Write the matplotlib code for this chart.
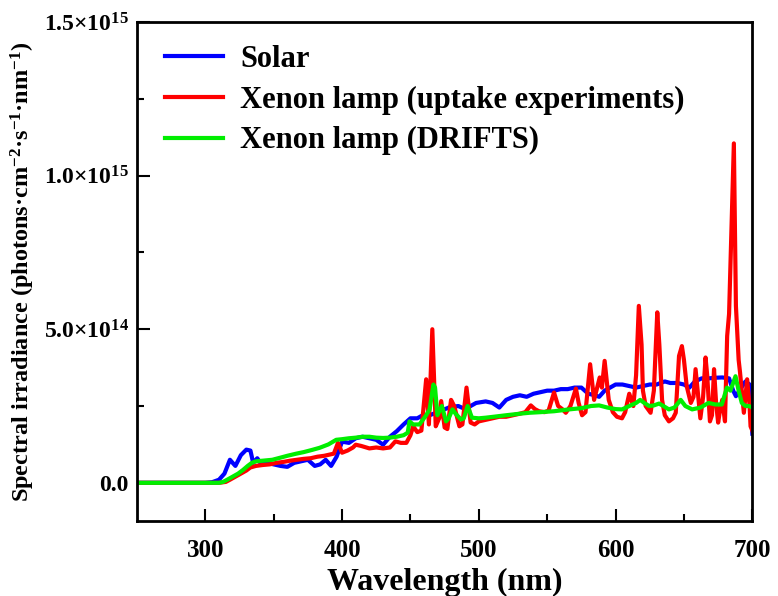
import numpy as np
import matplotlib
matplotlib.use('Agg')
import matplotlib.pyplot as plt
from matplotlib.ticker import FixedLocator

# values, irradiance in units of 1e14 photons/cm2/s/nm
solar_wl = [250, 300, 305, 310, 314, 318, 322, 326, 330, 333, 335, 338, 341, 345, 350,
            355, 360, 365, 370, 375, 380, 384, 388, 392, 396, 400, 405, 410, 415, 420,
            425, 430, 435, 440, 445, 450, 455, 459, 464, 470, 478, 485, 490, 498, 505,
            510, 515, 520, 525, 530, 535, 540, 545, 550, 555, 560, 565, 570, 575, 580,
            585, 588, 592, 596, 600, 605, 610, 615, 620, 625, 630, 636, 640, 645, 650,
            654, 658, 663, 668, 673, 678, 683, 686, 688, 692, 695, 698, 699.5, 700]
solar_val = [0, 0, 0.02, 0.1, 0.3, 0.75, 0.55, 0.9, 1.08, 1.05, 0.65, 0.8, 0.6, 0.65, 0.6,
             0.55, 0.52, 0.65, 0.7, 0.75, 0.55, 0.6, 0.75, 0.55, 0.85, 1.34, 1.3, 1.45, 1.5, 1.45,
             1.4, 1.24, 1.5, 1.68, 1.9, 2.1, 2.1, 2.2, 2.2, 2.3, 2.45, 2.5, 2.4, 2.6, 2.65,
             2.6, 2.45, 2.7, 2.8, 2.85, 2.8, 2.9, 2.95, 3.0, 3.0, 3.05, 3.05, 3.1, 3.1, 2.9,
             2.85, 2.8, 3.0, 3.1, 3.2, 3.2, 3.15, 3.1, 3.15, 3.2, 3.2, 3.3, 3.25, 3.25, 3.2,
             3.1, 3.3, 3.4, 3.4, 3.42, 3.43, 3.4, 3.0, 2.82, 3.1, 3.3, 3.2, 2.0, 1.6]

uptake_wl = [250, 310, 315, 318, 322, 326, 330, 333, 337, 342, 347, 352, 357, 362, 367,
             372, 377, 382, 387, 391, 394, 397, 400, 404, 408, 410, 414, 420, 425, 430,
             435, 439, 443, 447, 450, 452, 455, 458, 461.5, 463.5, 466, 468.5, 471, 472.5, 475,
             477, 479.7, 482, 485.8, 488, 491, 494, 497, 500, 505, 510, 515, 520, 525, 530,
             534, 538, 541, 544, 548, 551, 555, 558, 561, 563.6, 567, 571, 573, 575.5, 578,
             581.4, 584.3, 588.4, 590, 592, 595, 598, 601, 604.7, 607, 610, 613, 615, 617,
             619, 620, 622, 625.6, 628, 630.5, 632, 634, 636, 639, 642, 644, 646.4, 648.5,
             650, 652, 655, 657, 658.5, 660, 662, 664, 665.8, 667, 669, 670.5, 672, 673.5,
             675, 676.5, 678, 680, 681.6, 683, 686.5, 688, 690, 691, 693.8, 696.2, 698, 698.7, 700]
uptake_val = [0, 0, 0.03, 0.1, 0.2, 0.3, 0.4, 0.5, 0.55, 0.58, 0.6, 0.65, 0.68, 0.72, 0.75,
              0.78, 0.8, 0.85, 0.88, 0.92, 0.95, 1.3, 0.98, 1.05, 1.15, 1.24, 1.2, 1.12, 1.15, 1.12,
              1.15, 1.35, 1.3, 1.3, 1.55, 1.84, 1.65, 1.7, 3.37, 1.9, 5.0, 1.84, 2.1, 2.66, 1.8,
              1.75, 2.7, 2.5, 1.84, 1.9, 3.1, 1.96, 1.9, 2.0, 2.05, 2.1, 2.15, 2.15, 2.2, 2.25,
              2.3, 2.52, 2.4, 2.33, 2.3, 2.35, 2.94, 2.5, 2.4, 2.28, 2.5, 3.07, 2.6, 2.2, 2.3,
              3.86, 2.7, 3.43, 3.1, 3.97, 2.7, 2.3, 2.15, 2.1, 2.3, 2.9, 2.5, 3.5, 5.76,
              4.5, 3.0, 2.5, 2.28, 3.0, 5.55, 4.5, 2.7, 2.2, 2.0, 2.1, 2.28, 4.13, 4.45,
              4.0, 3.15, 2.6, 2.8, 3.7, 3.0, 2.1, 2.8, 4.08, 3.5, 2.0, 2.2, 3.7, 2.6,
              1.96, 2.4, 2.7, 2.0, 4.78, 5.5, 11.05, 5.76, 4.0, 3.6, 2.28, 3.37, 2.5, 1.84, 1.7]

drifts_wl = [250, 310, 313, 316, 320, 324, 327.6, 331, 334, 337, 342, 349, 355, 360, 366.6,
             372, 378, 383.6, 390, 395.7, 400, 405, 410, 415, 420, 425, 430, 434.7, 440, 445,
             448, 449.3, 452, 456.6, 461.5, 464, 466.8, 468, 469.7, 473, 476, 478, 480.7, 483, 487,
             489, 491.8, 495, 500, 505, 512.6, 520, 530, 537, 545, 555, 566, 575, 582, 588,
             594, 600, 604.7, 610, 615, 618, 621, 624.5, 628, 631.8, 635, 639, 643, 647.6, 651,
             656, 662, 668, 673, 677.7, 681.4, 684, 687.7, 690, 692.3, 695, 697.5, 700]
drifts_val = [0, 0, 0.03, 0.1, 0.2, 0.3, 0.42, 0.55, 0.65, 0.7, 0.72, 0.75, 0.82, 0.88, 0.95,
              1.0, 1.07, 1.14, 1.25, 1.4, 1.42, 1.45, 1.47, 1.5, 1.5, 1.47, 1.46, 1.47, 1.5, 1.55,
              1.63, 2.0, 1.9, 1.9, 2.2, 2.39, 3.2, 3.1, 2.2, 2.5, 2.0, 2.1, 2.39, 2.25, 2.06,
              2.1, 2.5, 2.12, 2.1, 2.12, 2.16, 2.2, 2.25, 2.28, 2.3, 2.33, 2.39, 2.43, 2.5, 2.52,
              2.45, 2.4, 2.39, 2.5, 2.6, 2.7, 2.6, 2.5, 2.52, 2.58, 2.5, 2.39, 2.45, 2.7, 2.5,
              2.39, 2.45, 2.6, 2.55, 2.55, 3.1, 3.0, 3.47, 3.0, 2.6, 2.5, 2.5, 2.45]

labels = ['Solar', 'Xenon lamp (uptake experiments)', 'Xenon lamp (DRIFTS)']
colors = ['#0000ff', '#ff0000', '#00ee00']
yticks = [0, 5e14, 1e15, 1.5e15]
ytick_labels = ['0.0', '5.0×10$^{14}$', '1.0×10$^{15}$', '1.5×10$^{15}$']

plt.rcParams['font.family'] = ['Liberation Serif', 'DejaVu Serif']
plt.rcParams['font.weight'] = 'bold'
plt.rcParams['mathtext.fontset'] = 'custom'
plt.rcParams['mathtext.rm'] = 'Liberation Serif:bold'
plt.rcParams['mathtext.it'] = 'Liberation Serif:bold'
plt.rcParams['mathtext.bf'] = 'Liberation Serif:bold'

fig = plt.figure(figsize=(7.78, 5.96), dpi=100)
ax = fig.add_axes([0.176, 0.126, 0.791, 0.837])

series = [(solar_wl, solar_val), (uptake_wl, uptake_val), (drifts_wl, drifts_val)]
for (wl, val), lab, c in zip(series, labels, colors):
    ax.plot(wl, np.array(val) * 1e14, color=c, lw=3, label=lab, solid_joinstyle='round')

ax.set_xlim(250, 700)
ax.set_ylim(-1.24e14, 1.5e15)
ax.xaxis.set_major_locator(FixedLocator([300, 400, 500, 600, 700]))
ax.xaxis.set_minor_locator(FixedLocator([350, 450, 550, 650]))
ax.yaxis.set_major_locator(FixedLocator(yticks))
ax.yaxis.set_minor_locator(FixedLocator([2.5e14, 7.5e14, 1.25e15]))
ax.set_yticklabels(ytick_labels)
ax.tick_params(which='both', direction='in', width=1.5, labelsize=17, pad=6)
ax.tick_params(axis='x', labelsize=18, pad=13)
ax.tick_params(which='major', length=9)
ax.tick_params(which='minor', length=5)
for s in ax.spines.values():
    s.set_linewidth(2)

ax.set_xlabel('Wavelength (nm)', fontsize=23, fontweight='bold', labelpad=4)
ax.set_ylabel('Spectral irradiance (photons·cm$^{-2}$·s$^{-1}$·nm$^{-1}$)',
              fontsize=17.5, fontweight='bold', labelpad=5)

ax.legend(loc='upper left', bbox_to_anchor=(0.009, 1.0), frameon=False, fontsize=22,
          handlelength=1.9, handletextpad=0.55, labelspacing=0.38, borderaxespad=0.35)

fig.savefig('out.png', dpi=100)
